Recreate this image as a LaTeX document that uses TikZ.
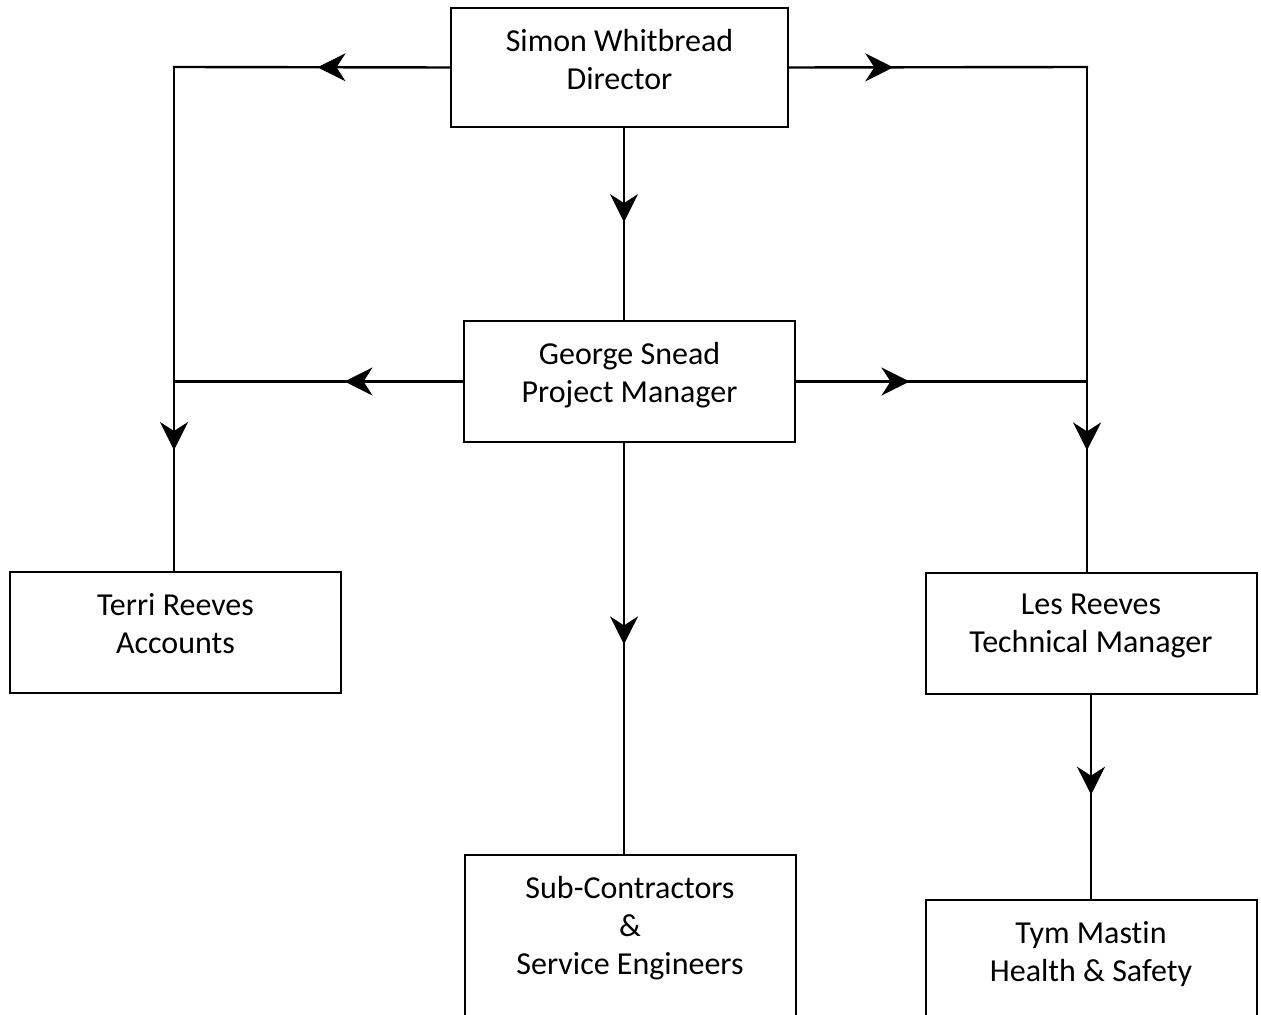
\documentclass[tikz,border=0pt]{standalone}
\usepackage{fontspec}
\setmainfont{Carlito}[Ligatures=NoCommon]
\usetikzlibrary{arrows.meta,decorations.markings}

\tikzset{
	staff/.style={draw=black, line width=1pt, minimum width=165.5pt, minimum height=60.5pt, inner sep=0pt},
	staffname/.style={anchor=north, align=center, inner sep=0pt, yshift=-11pt, font=\fontsize{16}{19}\selectfont},
	link/.style={draw=black, line width=1.2pt, line cap=rect},
	tipat/.style={postaction={decorate}, decoration={markings, mark=at position #1 with {\arrow{Stealth[length=14pt,width=14pt,inset=4.5pt]}}}}
}

\begin{document}
\begin{tikzpicture}[x=0.5pt,y=-0.5pt]
%page
\clip (0,0) rectangle (1261,1015);

%boxes
\node[staff, minimum width=168.5pt, minimum height=59.5pt, label={[staffname]north:Simon Whitbread\\Director}] (dir) at (619.5,67.5) {};
\node[staff, label={[staffname]north:George Snead\\Project Manager}] (pm) at (629.5,381.5) {};
\node[staff, label={[staffname]north:Terri Reeves\\Accounts}] (terri) at (175.5,632.5) {};
\node[staff, label={[staffname]north:Les Reeves\\Technical Manager}] (les) at (1091,633) {};
\node[staff, minimum height=90pt, label={[staffname]north:Sub-Contractors\\\&\\Service Engineers}] (sub) at (630,945) {};
\node[staff, label={[staffname]north:Tym Mastin\\Health \& Safety}] (tym) at (1091,960.5) {};

%bus lines
\coordinate (lbus) at (174,67);
\coordinate (rbus) at (1087,67);
\coordinate (spine) at (624,0);

%connectors
\draw[link,tipat=0.48] (dir.west) -- (lbus);
\draw[link,tipat=0.35] (dir.east) -- (rbus);
\draw[link,tipat=0.49] (dir.south -| spine) -- (pm.north -| spine);
\draw[link,tipat=0.76] (lbus) -- (terri.north -| lbus);
\draw[link,tipat=0.76] (rbus) -- (les.north -| rbus);
\draw[link,tipat=0.41] (pm.west) -- (pm.west -| lbus);
\draw[link,tipat=0.39] (pm.east) -- (pm.east -| rbus);
\draw[link,tipat=0.49] (pm.south -| spine) -- (sub.north -| spine);
\draw[link,tipat=0.49] (les.south) -- (tym.north);
\end{tikzpicture}
\end{document}
